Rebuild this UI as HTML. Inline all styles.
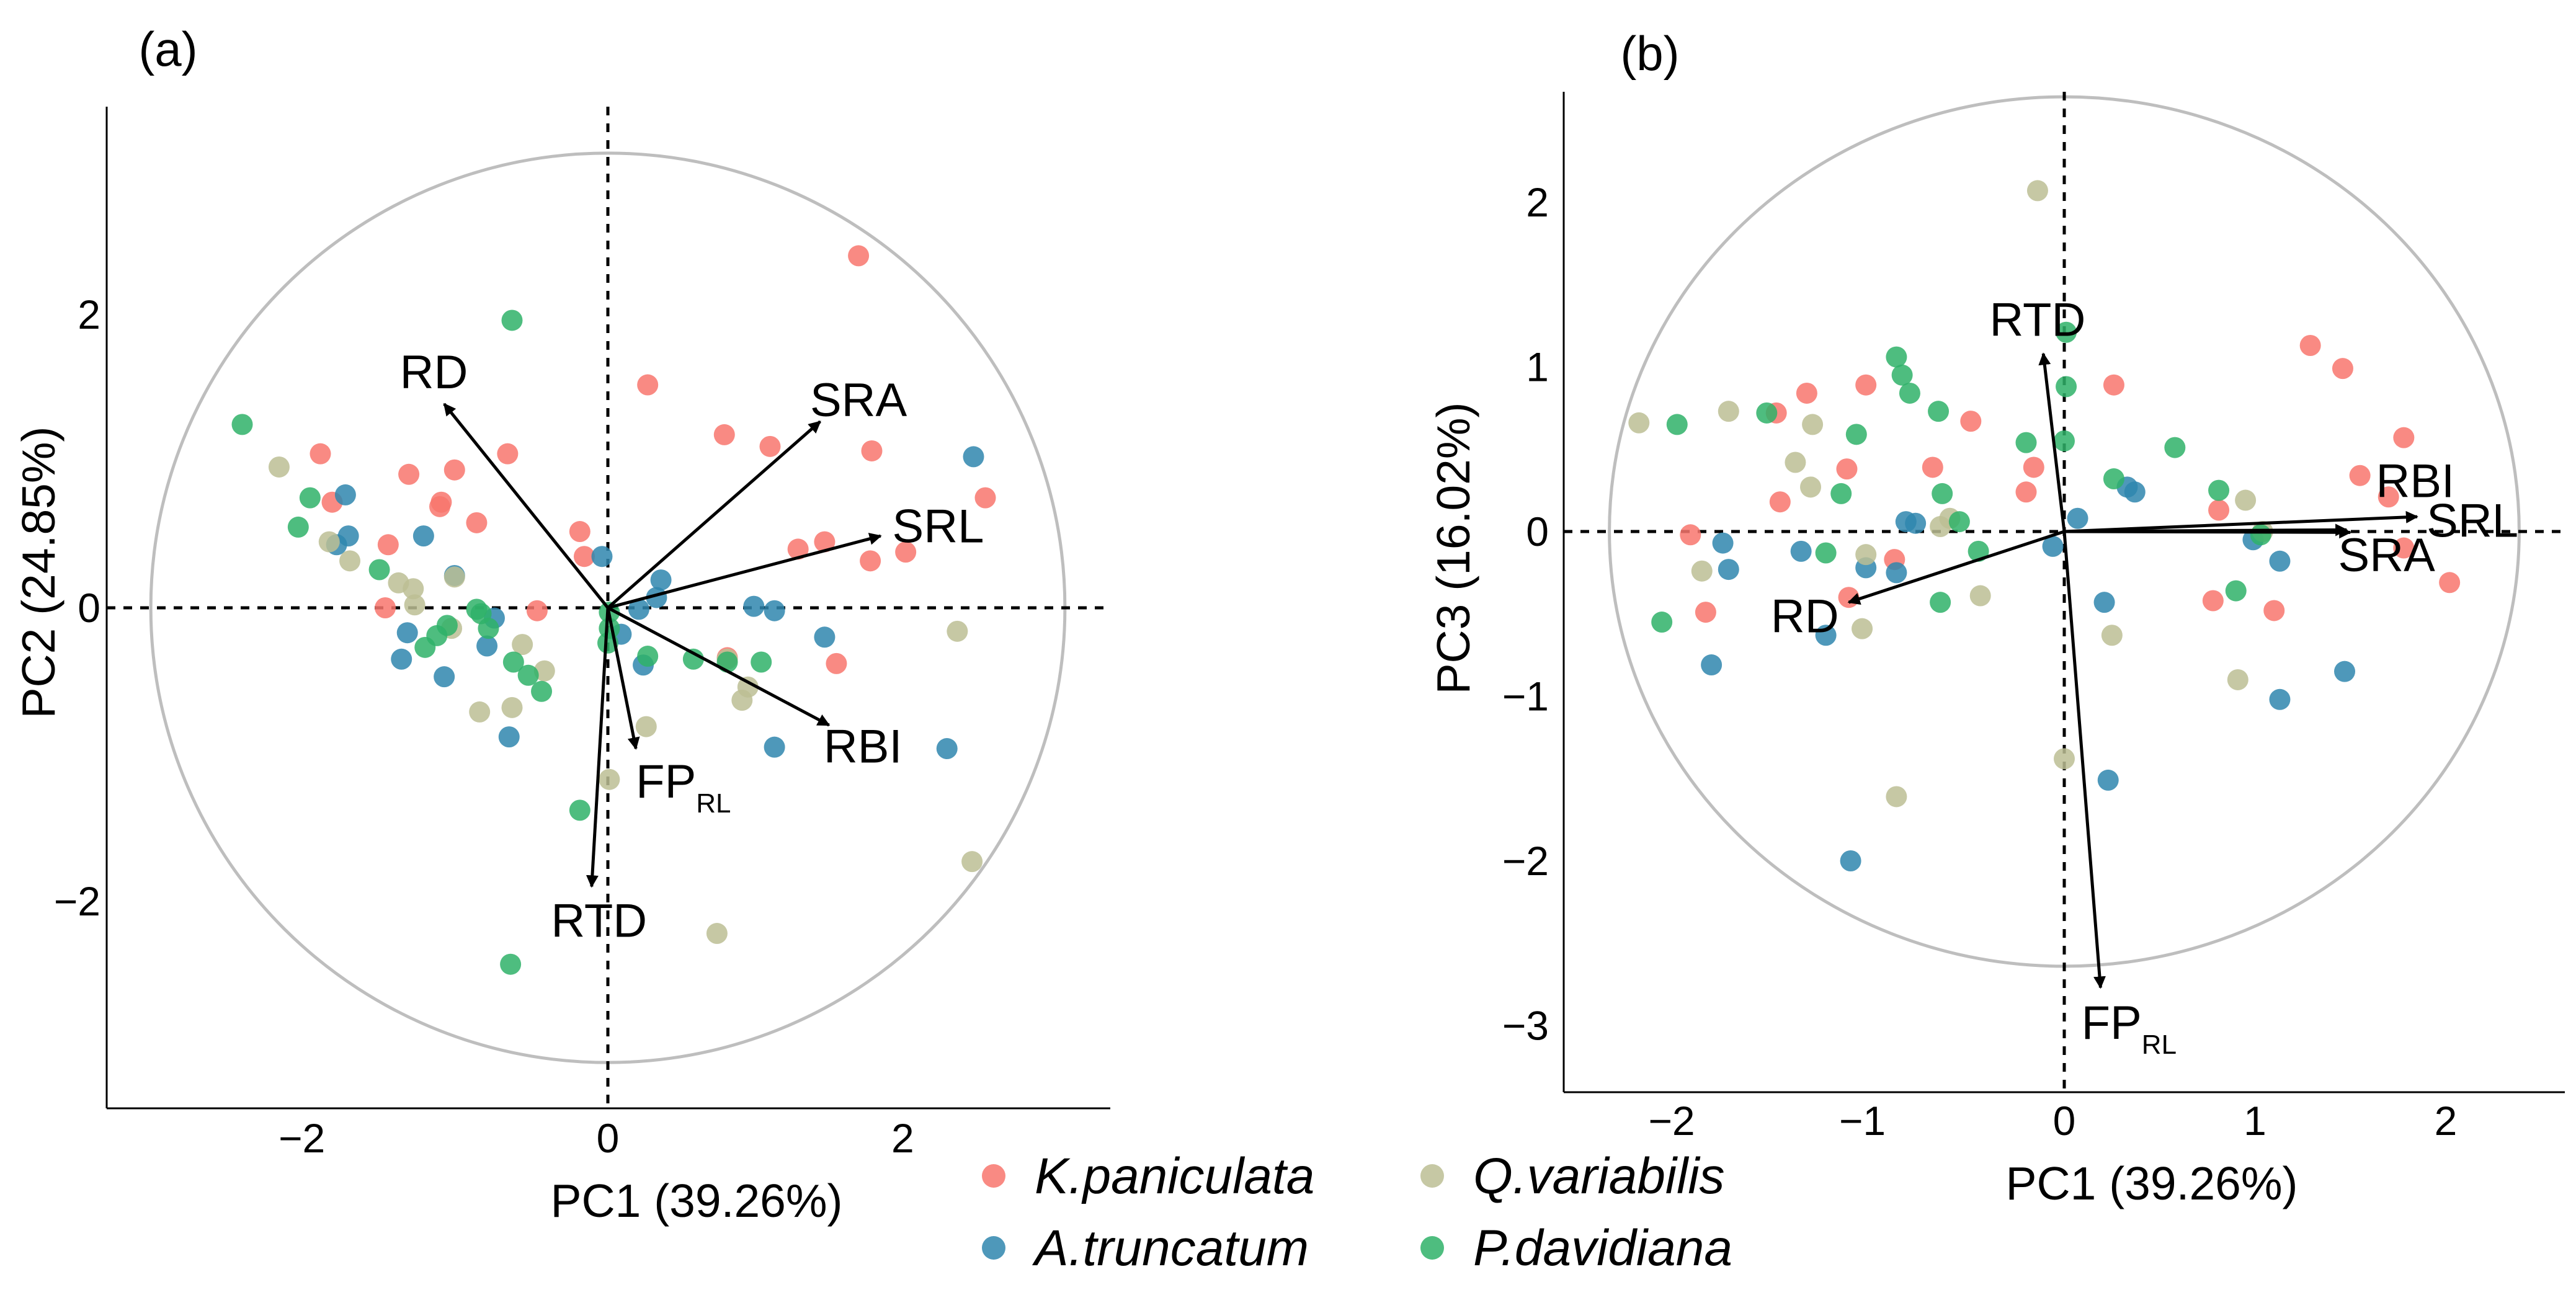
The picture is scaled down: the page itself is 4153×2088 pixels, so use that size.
<!DOCTYPE html>
<html><head><meta charset="utf-8"><style>
html,body{margin:0;padding:0;background:#fff;}
svg{display:block;font-family:"Liberation Sans",Arial,sans-serif;}
</style></head><body>
<svg id="chart" width="4153" height="2088" viewBox="0 0 4153 2088" xmlns="http://www.w3.org/2000/svg">
<defs>
<marker id="ah" viewBox="0 0 10 10" refX="9" refY="5" markerWidth="4" markerHeight="4" orient="auto"><path d="M0,0 L10,5 L0,10 z" fill="#000"/></marker>
</defs>
<g id="pa"></g>
<g id="pb"></g>
<g id="legend"></g>
</svg>
<script>
const speciesNames = ["K.paniculata","A.truncatum","Q.variabilis","P.davidiana"];
const speciesColors = ["#F8766D","#2F86AE","#BCBE94","#2FB268"];
// Panel a: PC1 vs PC2
const aRedX=[1.70,0.27,0.79,1.10,1.79,2.56,1.29,1.47,1.78,2.02,1.55,0.81,-1.95,-1.87,-1.35,-1.04,-1.13,-1.14,-0.68,-0.89,-1.49,-1.51,-0.19,-0.16,-0.48];
const aRedY=[2.40,1.52,1.18,1.10,1.07,0.75,0.40,0.45,0.32,0.38,-0.38,-0.34,1.05,0.72,0.91,0.94,0.72,0.69,1.05,0.58,0.43,0.00,0.52,0.35,-0.02];
const aBlueX=[2.48,-0.04,0.36,0.33,0.99,1.13,1.47,1.13,2.30,0.21,0.09,0.24,-0.67,-0.82,-0.77,-1.11,-1.40,-1.36,-1.25,-1.04,-1.78,-1.76,-1.84];
const aBlueY=[1.03,0.35,0.19,0.07,0.01,-0.02,-0.20,-0.95,-0.96,-0.01,-0.18,-0.39,-0.88,-0.26,-0.07,-0.47,-0.35,-0.17,0.49,0.22,0.77,0.49,0.43];
const aKhakiX=[-2.23,-1.89,-1.75,-1.42,-1.32,-1.31,-1.04,-1.06,-0.58,-0.43,-0.87,-0.65,0.26,0.01,0.95,0.91,0.81,2.37,2.47,0.74];
const aKhakiY=[0.96,0.45,0.32,0.17,0.13,0.02,0.21,-0.14,-0.25,-0.43,-0.71,-0.68,-0.81,-1.17,-0.54,-0.63,-0.35,-0.16,-1.73,-2.22];
const aGreenX=[-2.48,-0.65,-2.02,-2.10,-1.55,-1.09,-1.16,-1.24,-0.89,-0.86,-0.81,-0.64,-0.54,-0.45,0.01,0.01,0.00,0.27,0.58,0.81,1.04,-0.19,-0.66];
const aGreenY=[1.25,1.96,0.75,0.55,0.26,-0.12,-0.19,-0.27,-0.01,-0.04,-0.14,-0.37,-0.46,-0.57,-0.03,-0.14,-0.24,-0.33,-0.35,-0.37,-0.37,-1.38,-2.43];
const aVarNames=["RD","SRA","SRL","RBI","FP","RTD"];
const aVarX=[-1.11,1.44,1.85,1.50,0.19,-0.11];
const aVarY=[1.39,1.27,0.49,-0.80,-0.96,-1.90];
const aLabX=[-1.18,1.70,2.24,1.73,0.19,-0.06];
const aLabY=[1.61,1.42,0.56,-0.94,-1.18,-2.13];
const aXTicks=[-2,0,2];
const aYTicks=[-2,0,2];
// Panel b: PC1 vs PC3
const bRedX=[-1.51,-1.35,-1.04,-1.49,-1.14,-0.69,-0.49,-0.16,-0.20,0.26,-1.96,-1.88,-1.13,-0.89,1.29,1.46,1.78,1.55,1.70,0.81,1.78,2.02,0.78,1.10];
const bRedY=[0.72,0.84,0.89,0.18,0.38,0.39,0.67,0.39,0.24,0.89,-0.02,-0.49,-0.40,-0.17,1.13,0.99,0.57,0.34,0.21,0.13,-0.10,-0.31,-0.42,-0.48];
const bBlueX=[-1.79,-1.76,-1.85,-1.38,-1.25,-1.04,-0.88,-0.83,-0.78,-0.06,0.07,0.33,0.37,0.21,0.23,-1.12,0.99,1.13,1.13,1.47];
const bBlueY=[-0.07,-0.23,-0.81,-0.12,-0.63,-0.22,-0.25,0.06,0.05,-0.09,0.08,0.27,0.24,-0.43,-1.51,-2.00,-0.05,-0.18,-1.02,-0.85];
const bKhakiX=[-2.23,-1.76,-1.32,-1.41,-1.33,-1.90,-1.04,-1.06,-0.88,-0.65,-0.60,-0.44,-0.14,0.00,0.25,0.95,0.91,1.04];
const bKhakiY=[0.66,0.73,0.65,0.42,0.27,-0.24,-0.14,-0.59,-1.61,0.03,0.08,-0.39,2.07,-1.38,-0.63,0.19,-0.90,0.00];
const bGreenX=[-2.03,-2.11,-1.56,-1.17,-1.25,-1.09,-0.88,-0.85,-0.81,-0.66,-0.64,-0.55,-0.45,-0.65,-0.20,0.01,0.01,0.00,0.26,0.58,0.81,0.90,1.03];
const bGreenY=[0.65,-0.55,0.72,0.23,-0.13,0.59,1.06,0.95,0.84,0.73,0.23,0.06,-0.12,-0.43,0.54,1.21,0.88,0.55,0.32,0.51,0.25,-0.36,-0.02];
const bVarNames=["RTD","RD","SRA","SRL","RBI","FP"];
const bVarX=[-0.11,-1.13,1.50,1.85,1.48,0.19];
const bVarY=[1.08,-0.43,-0.005,0.09,0.01,-2.77];
const bLabX=[-0.14,-1.36,1.69,2.14,1.84,0.09];
const bLabY=[1.29,-0.51,-0.14,0.07,0.31,-2.98];
const bXTicks=[-2,-1,0,1,2];
const bYTicks=[-3,-2,-1,0,1,2];

const NS="http://www.w3.org/2000/svg";
function mk(parent,tag,attrs,text){const e=document.createElementNS(NS,tag);for(const k in attrs)e.setAttribute(k,attrs[k]);if(text!==undefined)e.textContent=text;parent.appendChild(e);return e;}

function drawPanel(g,cfg){
  const sx=v=>cfg.x0+v*cfg.ux, sy=v=>cfg.y0-v*cfg.uy;
  let e=mk(g,'line',{x1:cfg.left,y1:cfg.top,x2:cfg.left,y2:cfg.bottom,stroke:'#000','stroke-width':3});
  
  
  e=mk(g,'line',{x1:cfg.left,y1:cfg.bottom,x2:cfg.right,y2:cfg.bottom,stroke:'#000','stroke-width':3});
  
  
  e=mk(g,'ellipse',{cx:sx(0),cy:sy(0),rx:cfg.r*cfg.ux,ry:cfg.r2*cfg.uy,fill:'none',stroke:'#BEBEBE','stroke-width':5});
  
  
  e=mk(g,'line',{x1:sx(0),y1:cfg.top,x2:sx(0),y2:cfg.bottom,stroke:'#000','stroke-width':5,'stroke-dasharray':'14 13'});
  
  
  e=mk(g,'line',{x1:cfg.left,y1:sy(0),x2:cfg.right,y2:sy(0),stroke:'#000','stroke-width':5,'stroke-dasharray':'14 13'});
  
  
  cfg.xt.forEach(t=>{const el=mk(g,'text',{x:sx(t)-(t<0?18:0),y:cfg.xtY,'font-size':66,'text-anchor':'middle'},t<0?'\u2212'+Math.abs(t):String(t));
    
    });
  cfg.yt.forEach(t=>{const el=mk(g,'text',{x:cfg.ytX,y:sy(t)+23,'font-size':66,'text-anchor':'end'},t<0?'\u2212'+Math.abs(t):String(t));
    
    });
  e=mk(g,'text',{x:cfg.xtitle[0],y:cfg.xtitle[1],'font-size':75,'text-anchor':'middle'},'PC1 (39.26%)');
  
  
  e=mk(g,'text',{x:0,y:0,'font-size':75,'text-anchor':'middle',transform:`translate(${cfg.ytitle[0]},${cfg.ytitle[1]}) rotate(-90)`},cfg.ylab);
  
  
  e=mk(g,'text',{x:cfg.tag[0],y:cfg.tag[1],'font-size':78,'text-anchor':'middle'},cfg.tagText);
  
  
  cfg.series.forEach((s,i)=>{s[0].forEach((xv,j)=>{const c=mk(g,'circle',{cx:sx(xv),cy:sy(s[1][j]),r:17,fill:speciesColors[i],'fill-opacity':0.85});
    
    });});
  cfg.vn.forEach((n,i)=>{const l=mk(g,'line',{x1:sx(0),y1:sy(0),x2:sx(cfg.vx[i]),y2:sy(cfg.vy[i]),stroke:'#000','stroke-width':5,'marker-end':'url(#ah)'});
    
    
    let t;
    if(n==='FP'){t=mk(g,'text',{x:sx(cfg.lx[i]),y:sy(cfg.ly[i])+27,'font-size':76,'text-anchor':'start'});
      mk(t,'tspan',{},'FP');mk(t,'tspan',{'font-size':44,dy:24},'RL');}
    else t=mk(g,'text',{x:sx(cfg.lx[i]),y:sy(cfg.ly[i])+27,'font-size':76,'text-anchor':'middle'},n);
    
    });
}
drawPanel(document.getElementById('pa'),{x0:980,y0:980,ux:237.7,uy:236.5,left:172,right:1790,top:172,bottom:1787,r:3.1,r2:3.1,
  xt:aXTicks,yt:aYTicks,xtY:1858,ytX:162,xtitle:[1123,1962],ytitle:[88,923],ylab:'PC2 (24.85%)',tag:[271,106],tagText:'(a)',
  series:[[aRedX,aRedY],[aBlueX,aBlueY],[aKhakiX,aKhakiY],[aGreenX,aGreenY]],vn:aVarNames,vx:aVarX,vy:aVarY,lx:aLabX,ly:aLabY});
drawPanel(document.getElementById('pb'),{x0:3328,y0:857,ux:307.5,uy:265.5,left:2521,right:4135,top:148,bottom:1761,r:2.385,r2:2.64,
  xt:bXTicks,yt:bYTicks,xtY:1830,ytX:2497,xtitle:[3469,1934],ytitle:[2369,884],ylab:'PC3 (16.02%)',tag:[2660,113],tagText:'(b)',
  series:[[bRedX,bRedY],[bBlueX,bBlueY],[bKhakiX,bKhakiY],[bGreenX,bGreenY]],vn:bVarNames,vx:bVarX,vy:bVarY,lx:bLabX,ly:bLabY});
const lg=document.getElementById('legend');
const legPos=[[1602,1896],[1602,2012],[2309,1896],[2309,2012]];
speciesNames.forEach((n,i)=>{const c=mk(lg,'circle',{cx:legPos[i][0],cy:legPos[i][1],r:19,fill:speciesColors[i],'fill-opacity':0.85});
  
  
  const t=mk(lg,'text',{x:legPos[i][0]+66,y:legPos[i][1]+28,'font-size':82,'font-style':'italic'},n);
  
  });
</script>
</body></html>
